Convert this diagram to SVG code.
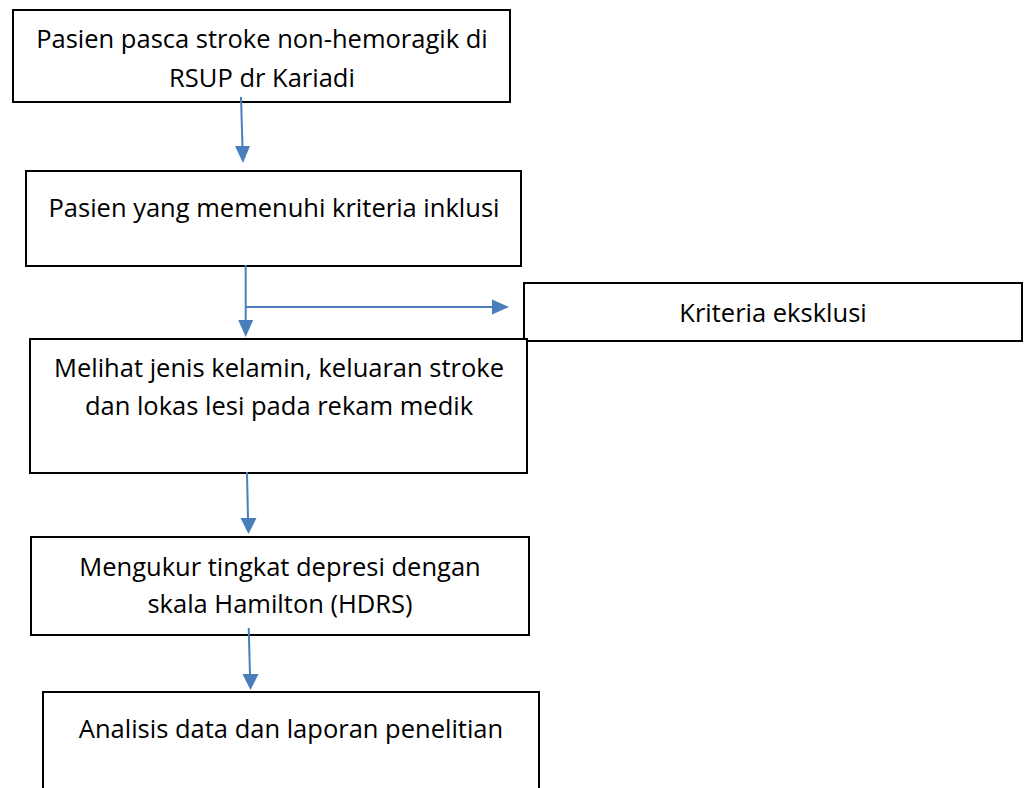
<svg xmlns="http://www.w3.org/2000/svg" width="1026" height="788" viewBox="0 0 1026 788">
<style>
.box{fill:#fff;stroke:#000;stroke-width:2}
.t{font-family:"Open Sans","Noto Sans","Liberation Sans",sans-serif;font-size:25.5px;fill:#000;text-anchor:middle}
.c{stroke:#4a7ebb;stroke-width:2;fill:none}
.h{fill:#4a7ebb}
</style>
<rect width="1026" height="788" fill="#fff"/>
<g id="n1"><rect class="box" x="13" y="10" width="497" height="92"/>
<text class="t" x="262" y="48">Pasien pasca stroke non-hemoragik di</text>
<text class="t" x="262" y="87">RSUP dr Kariadi</text></g>
<g id="n2"><rect class="box" x="26" y="171" width="495" height="95"/>
<text class="t" x="274" y="217">Pasien yang memenuhi kriteria inklusi</text></g>
<g id="n3"><rect class="box" x="524" y="283" width="498" height="58"/>
<text class="t" x="773" y="322">Kriteria eksklusi</text></g>
<g id="n4"><rect class="box" x="30" y="339" width="497" height="134"/>
<text class="t" x="279" y="377">Melihat jenis kelamin, keluaran stroke</text>
<text class="t" x="279" y="415">dan lokas lesi pada rekam medik</text></g>
<g id="n5"><rect class="box" x="31" y="537" width="498" height="98"/>
<text class="t" x="280" y="576">Mengukur tingkat depresi dengan</text>
<text class="t" x="280" y="613">skala Hamilton (HDRS)</text></g>
<g id="n6"><rect class="box" x="43" y="692" width="496" height="120"/>
<text class="t" x="291" y="738">Analisis data dan laporan penelitian</text></g>
<g id="connectors">
<line class="c" x1="241" y1="97" x2="242.5" y2="148"/>
<polygon class="h" points="235,146 250,146 243,163"/>
<line class="c" x1="245.7" y1="265" x2="245.7" y2="322"/>
<polygon class="h" points="238.2,320 253.2,320 245.7,337"/>
<line class="c" x1="245.7" y1="307" x2="494" y2="307"/>
<polygon class="h" points="492,299.5 509,307 492,314.5"/>
<line class="c" x1="247" y1="472" x2="248" y2="519"/>
<polygon class="h" points="240.5,518 256.5,518 248.5,534"/>
<line class="c" x1="248.7" y1="628" x2="250" y2="675"/>
<polygon class="h" points="242.5,674 258.5,674 250.5,690"/>
</g>
</svg>
